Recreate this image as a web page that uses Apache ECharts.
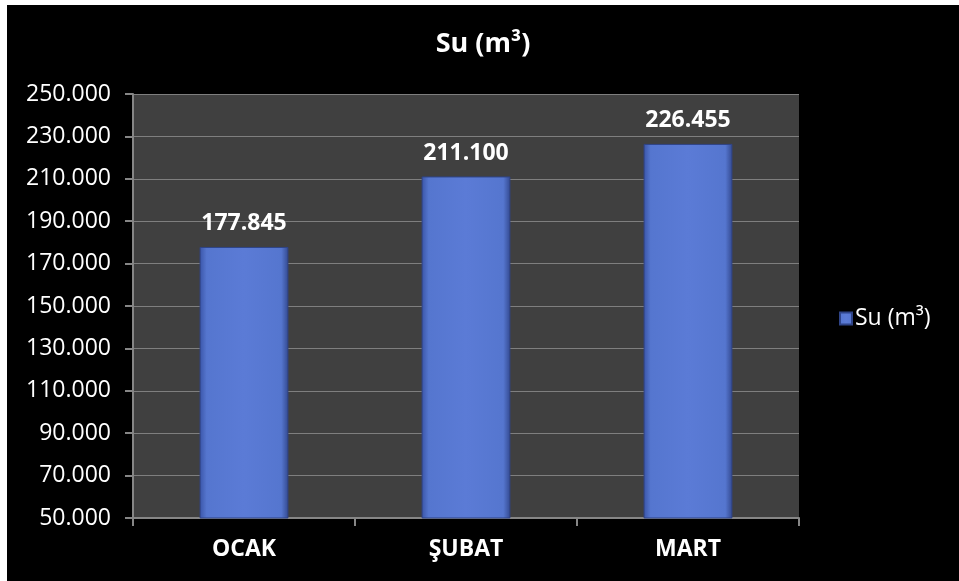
<!DOCTYPE html>
<html>
<head>
<meta charset="utf-8">
<script src="https://cdn.jsdelivr.net/npm/echarts@6/dist/echarts.min.js"></script>
<style>
html,body{margin:0;padding:0;background:#ffffff;width:959px;height:581px;overflow:hidden;}
#c{position:absolute;left:7px;top:5px;width:952px;height:576px;background:#000;}
</style>
</head>
<body>
<div id="c"></div>
<script>
var title = 'Su (m³)';
var seriesName = 'Su (m³)';
var categories = ['OCAK', 'ŞUBAT', 'MART'];
var values = [177845, 211100, 226455];
var yMin = 50000, yMax = 250000, yStep = 20000;

function fmt(v) {
  return String(Math.round(v)).replace(/\B(?=(\d{3})+(?!\d))/g, '.');
}

var FONT = '"Open Sans", Lato, sans-serif';
var barColor = new echarts.graphic.LinearGradient(0, 0, 1, 0, [
  {offset: 0, color: '#3a55a8'},
  {offset: 0.08, color: '#5576cf'},
  {offset: 0.5, color: '#5b7bd6'},
  {offset: 0.92, color: '#5576cf'},
  {offset: 1, color: '#33498f'}
]);

var chart = echarts.init(document.getElementById('c'));
chart.setOption({
  backgroundColor: '#000000',
  animation: false,
  title: {
    text: title,
    left: 'center',
    top: 21,
    textStyle: {color: '#ffffff', fontFamily: FONT, fontWeight: 'bold', fontSize: 27}
  },
  legend: {
    left: 832,
    top: 302,
    padding: 0,
    itemWidth: 12,
    itemHeight: 12,
    itemGap: 8,
    icon: 'rect',
    data: [seriesName],
    textStyle: {color: '#ffffff', fontFamily: FONT, fontSize: 23, padding: [0, 0, 0, -2]}
  },
  grid: {
    left: 126, right: 160, top: 89, bottom: 63,
    show: true, backgroundColor: '#404040', borderWidth: 0
  },
  xAxis: {
    type: 'category',
    data: categories,
    axisLine: {lineStyle: {color: '#868686', width: 2}},
    axisTick: {show: true, length: 8, lineStyle: {color: '#868686', width: 2}},
    axisLabel: {color: '#ffffff', fontFamily: FONT, fontWeight: 'bold', fontSize: 23, margin: 20}
  },
  yAxis: {
    type: 'value',
    min: yMin, max: yMax, interval: yStep,
    axisLine: {show: true, lineStyle: {color: '#868686', width: 2}},
    axisTick: {show: true, length: 8, lineStyle: {color: '#868686', width: 2}},
    splitLine: {lineStyle: {color: '#7f7f7f', width: 1}},
    axisLabel: {color: '#ffffff', fontFamily: FONT, fontSize: 23, margin: 22, formatter: fmt}
  },
  series: [{
    name: seriesName,
    type: 'bar',
    data: values,
    barWidth: '40%',
    itemStyle: {color: barColor, borderColor: '#2f4488', borderWidth: 1},
    label: {
      show: true,
      position: 'top',
      distance: 12,
      color: '#ffffff',
      fontFamily: FONT,
      fontWeight: 'bold',
      fontSize: 23,
      formatter: function (p) { return fmt(p.value); }
    }
  }]
});
</script>
</body>
</html>
